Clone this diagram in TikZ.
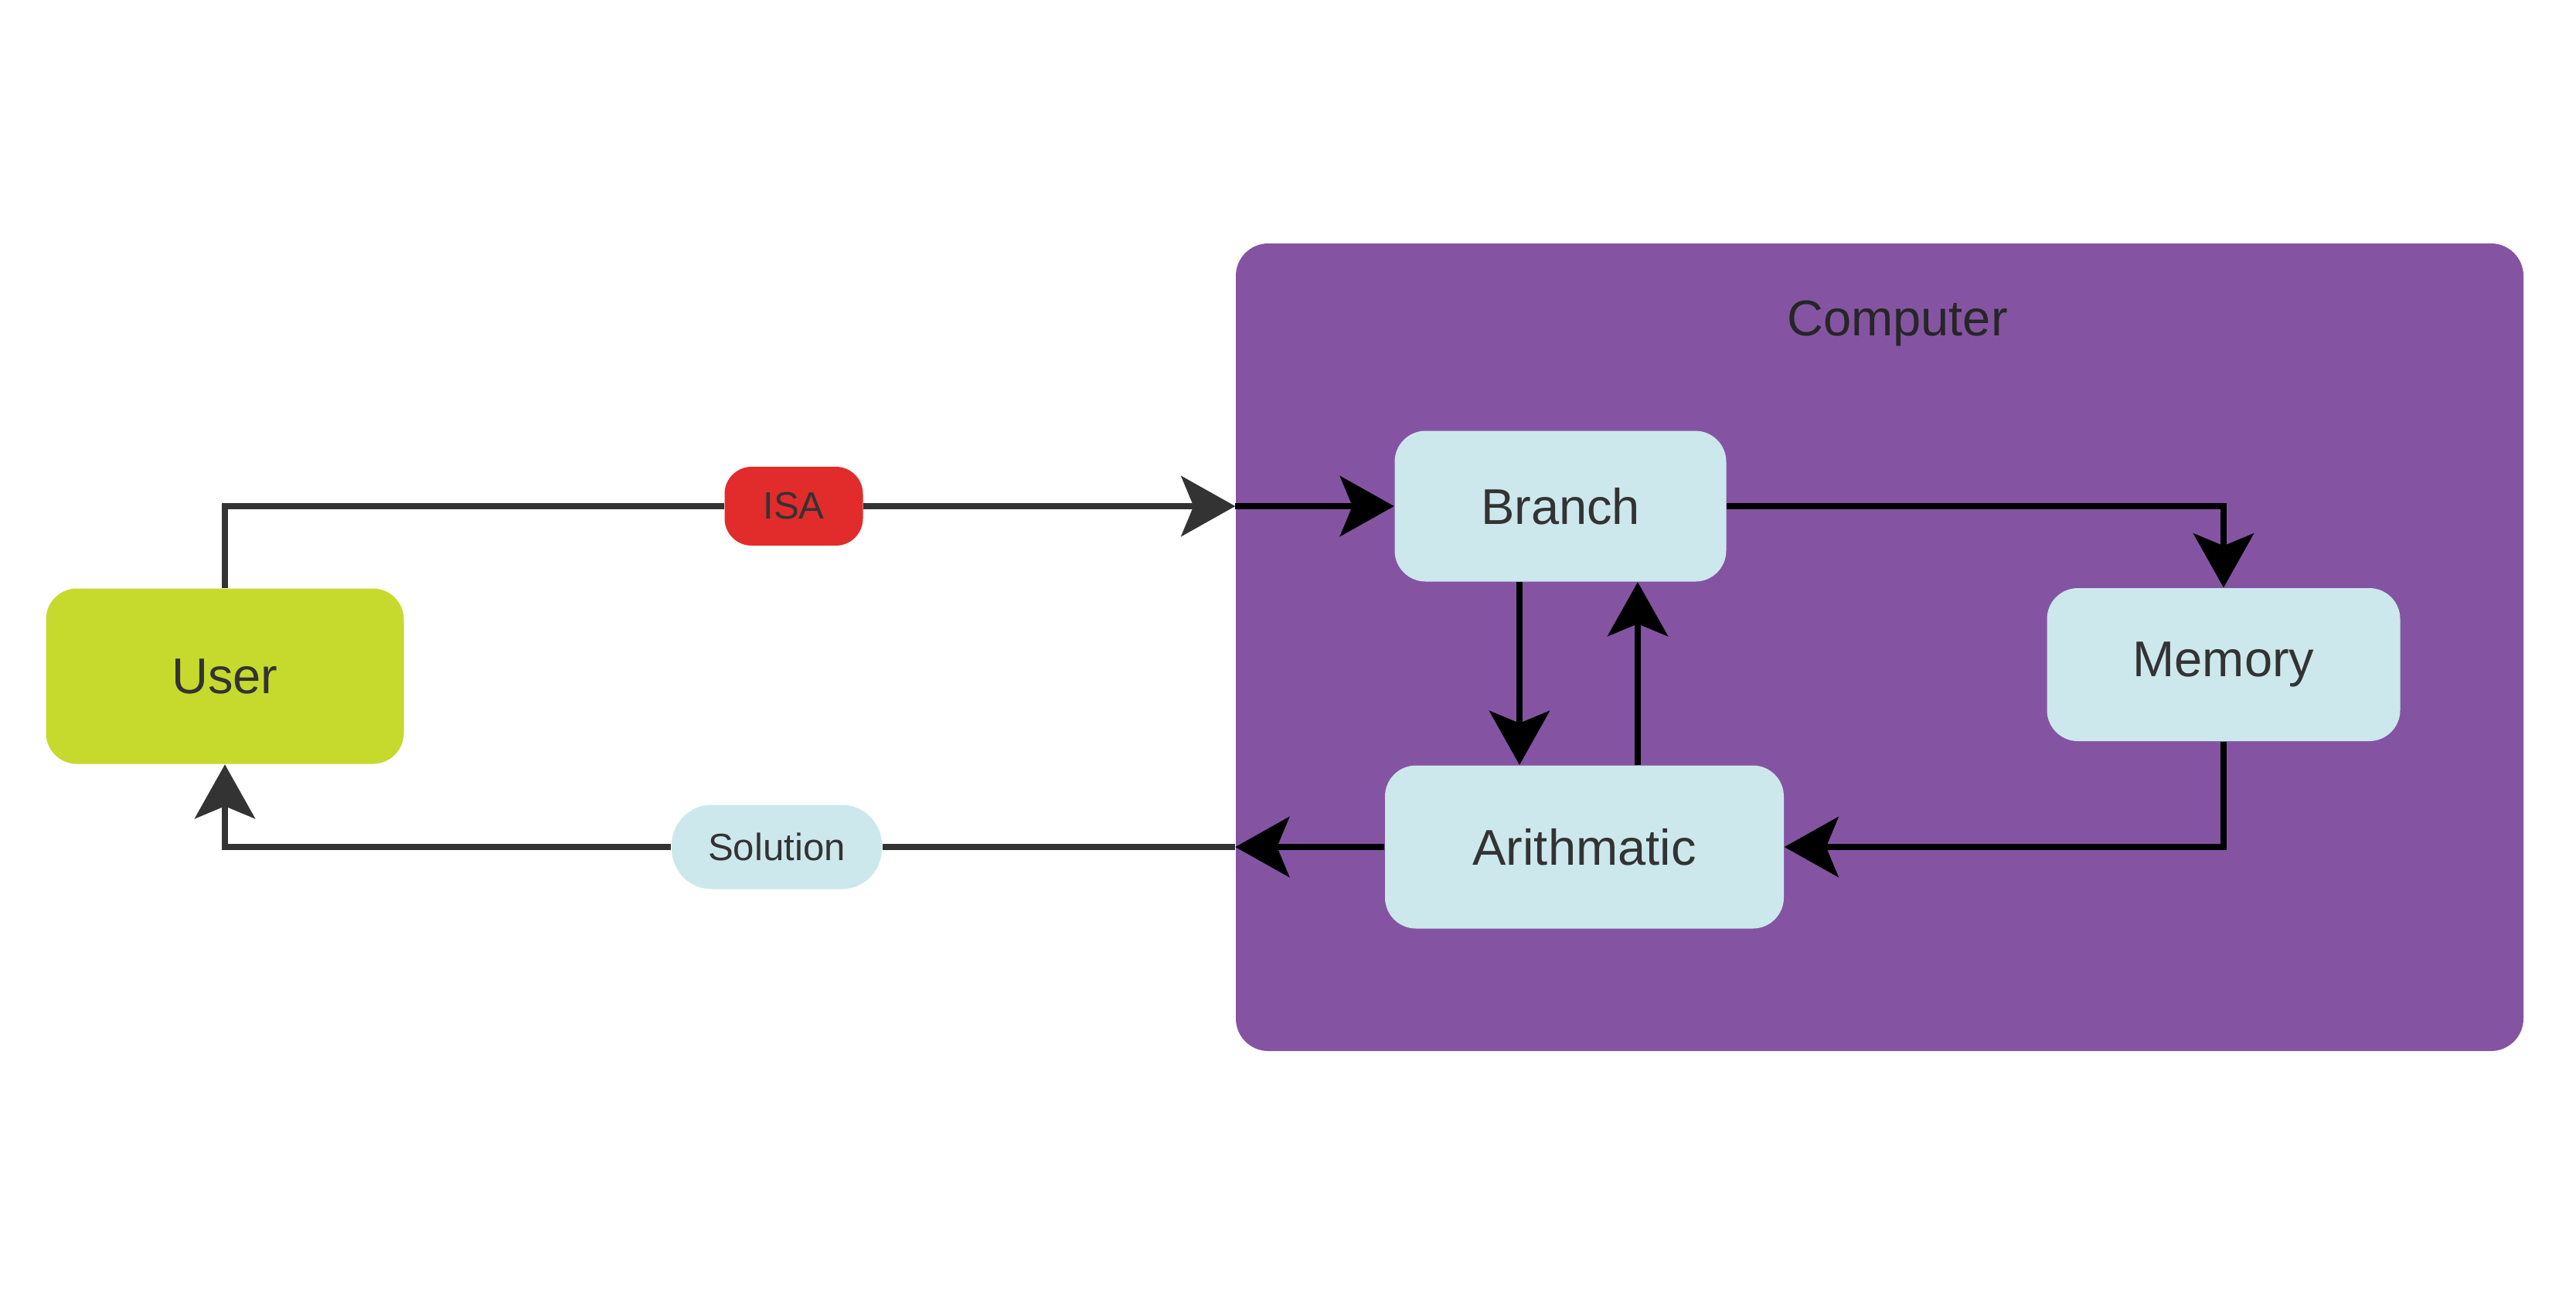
\documentclass[tikz,border=0pt]{standalone}
\usepackage{fontspec}
\setmainfont{Liberation Sans}
\usetikzlibrary{arrows.meta}
\definecolor{mauve}{RGB}{132,84,162}
\definecolor{bleuclair}{RGB}{204,232,236}
\definecolor{citron}{RGB}{198,218,46}
\definecolor{rouge}{RGB}{226,43,43}
\definecolor{anthracite}{RGB}{51,51,51}
\begin{document}
\begin{tikzpicture}[>={Stealth[length=7mm,width=7.8mm,inset=1.6mm]}]
\tikzstyle{boite}=[rounded corners=4mm, fill=bleuclair, text=anthracite, inner sep=0pt, font=\fontsize{18.5}{22}\selectfont];
\tikzstyle{etiquette}=[rounded corners=4.5mm, text=anthracite, inner sep=0pt, font=\fontsize{14}{17}\selectfont];
\tikzstyle{fil}=[line width=0.75mm, anthracite];
\tikzstyle{lien}=[line width=0.75mm, black];
\useasboundingbox[fill=white] (0,0) rectangle (33.33,-16.67);

\node[fill=mauve, rounded corners=4.2mm, minimum width=16.66cm, minimum height=10.45cm] (computer) at (24.32,-8.375) {};
\node[text=black!85, font=\fontsize{18.5}{22}\selectfont] (titre) at (24.55,-4.19) {Computer};
\node[boite, minimum width=4.29cm, minimum height=1.95cm] (branch) at (20.19,-6.55) {Branch};
\node[boite, minimum width=4.57cm, minimum height=1.98cm] (memory) at (28.77,-8.60) {Memory};
\node[boite, minimum width=5.16cm, minimum height=2.11cm] (arith) at (20.50,-10.96) {Arithmatic};
\node[boite, fill=citron, minimum width=4.63cm, minimum height=2.27cm] (user) at (2.91,-8.75) {User};
\node[etiquette, fill=rouge, rounded corners=3.5mm, minimum width=1.79cm, minimum height=1.02cm] (isa) at (10.27,-6.55) {ISA};
\node[etiquette, fill=bleuclair, rounded corners=5.2mm, minimum width=2.72cm, minimum height=1.09cm] (sol) at (10.05,-10.96) {Solution};

\draw[fil] (user.north) |- (isa.west);
\draw[fil,->] (isa.east) -- (computer.west |- isa.east);
\draw[lien,->] (computer.west |- branch.west) -- (branch.west);
\draw[lien,->] (branch.east) -| (memory.north);
\draw[lien,->] ([xshift=-5.3mm]branch.south) -- ([xshift=-5.3mm]branch.south |- arith.north);
\draw[lien,->] ([xshift=6.9mm]arith.north) -- ([xshift=6.9mm]arith.north |- branch.south);
\draw[lien,->] (memory.south) |- (arith.east);
\draw[lien,->] (arith.west) -- (computer.west |- arith.west);
\draw[fil] (computer.west |- sol.east) -- (sol.east);
\draw[fil,->] (sol.west) -| (user.south);
\end{tikzpicture}
\end{document}
